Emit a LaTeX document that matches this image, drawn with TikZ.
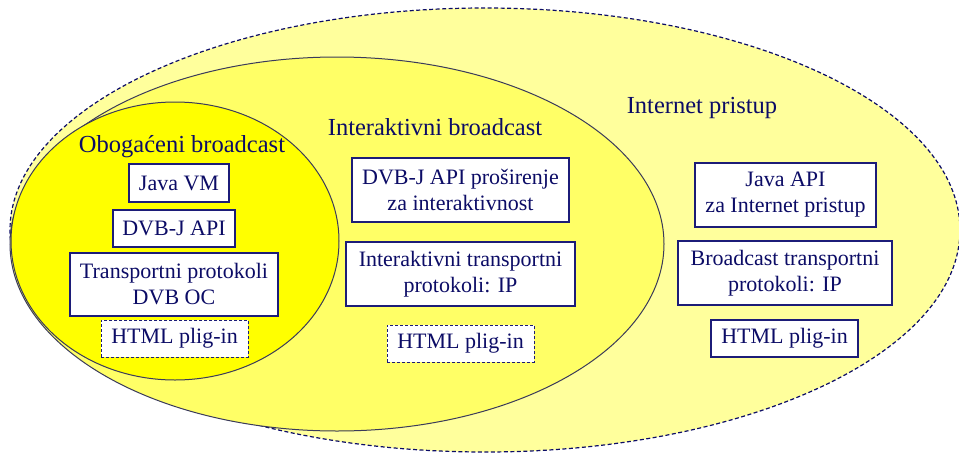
\documentclass[tikz,border=0pt]{standalone}
\usepackage{fontspec}
\setmainfont{Liberation Serif}
\definecolor{ink}{HTML}{0C0C66}
\definecolor{boxline}{HTML}{1C1C78}
\definecolor{outerfill}{HTML}{FFFF9C}
\definecolor{midfill}{HTML}{FFFF66}
\definecolor{innerfill}{HTML}{FFFF00}
\definecolor{ringline}{HTML}{3A3A5A}
\tikzset{
  layerbox/.style={draw=boxline, line width=1.3pt, fill=white, inner sep=0pt,
    align=center, text=ink, font=\fontsize{22}{26}\selectfont},
  pluginbox/.style={layerbox, dashed, dash pattern=on 3pt off 2pt, line width=1pt},
  title/.style={text=ink, inner sep=0pt, font=\fontsize{24.5}{28}\selectfont},
}
\begin{document}
\begin{tikzpicture}[x=1pt,y=-1pt]
  \useasboundingbox (0,0) rectangle (959,453);
  % nested service profiles
  \draw[fill=outerfill, draw=ink, line width=1.2pt, dash pattern=on 4pt off 2.5pt]
    (485,230) ellipse [x radius=475pt, y radius=222pt];
  \draw[fill=midfill, draw=ringline, line width=1pt]
    (337,244) ellipse [x radius=327pt, y radius=187pt];
  \draw[fill=innerfill, draw=ringline, line width=1pt]
    (175,241) ellipse [x radius=164pt, y radius=139pt];

  % profile titles
  \node[title] (tenh) at (182,147) {Obogaćeni broadcast};
  \node[title] (tint) at (435,127) {Interaktivni broadcast};
  \node[title] (tnet) at (702,108) {Internet pristup};

  % enhanced broadcast
  \node[layerbox, minimum width=100pt, minimum height=38pt] (jvm) at (179,183) {Java VM};
  \node[layerbox, minimum width=122pt, minimum height=37pt] (dvbj) at (174,228.5) {DVB-J API};
  \node[layerbox, minimum width=208pt, minimum height=63pt] (oc) at (174,284.5) {Transportni protokoli\\DVB OC};
  \node[pluginbox, minimum width=147pt, minimum height=37pt] (html1) at (174.5,338.5) {HTML plig-in};

  % interactive broadcast
  \node[layerbox, minimum width=217pt, minimum height=64pt] (ext) at (460.5,190) {DVB-J API proširenje\\za interaktivnost};
  \node[layerbox, minimum width=229pt, minimum height=64pt] (itp) at (460.5,274) {Interaktivni transportni\\protokoli: IP};
  \node[pluginbox, minimum width=147pt, minimum height=37pt] (html2) at (460.5,343.5) {HTML plig-in};

  % internet access
  \node[layerbox, minimum width=181pt, minimum height=64pt] (japi) at (785.5,195) {Java API\\za Internet pristup};
  \node[layerbox, minimum width=214pt, minimum height=64pt] (btp) at (785,273) {Broadcast transportni\\protokoli: IP};
  \node[layerbox, minimum width=147pt, minimum height=37pt] (html3) at (784.5,338.5) {HTML plig-in};
\end{tikzpicture}
\end{document}
